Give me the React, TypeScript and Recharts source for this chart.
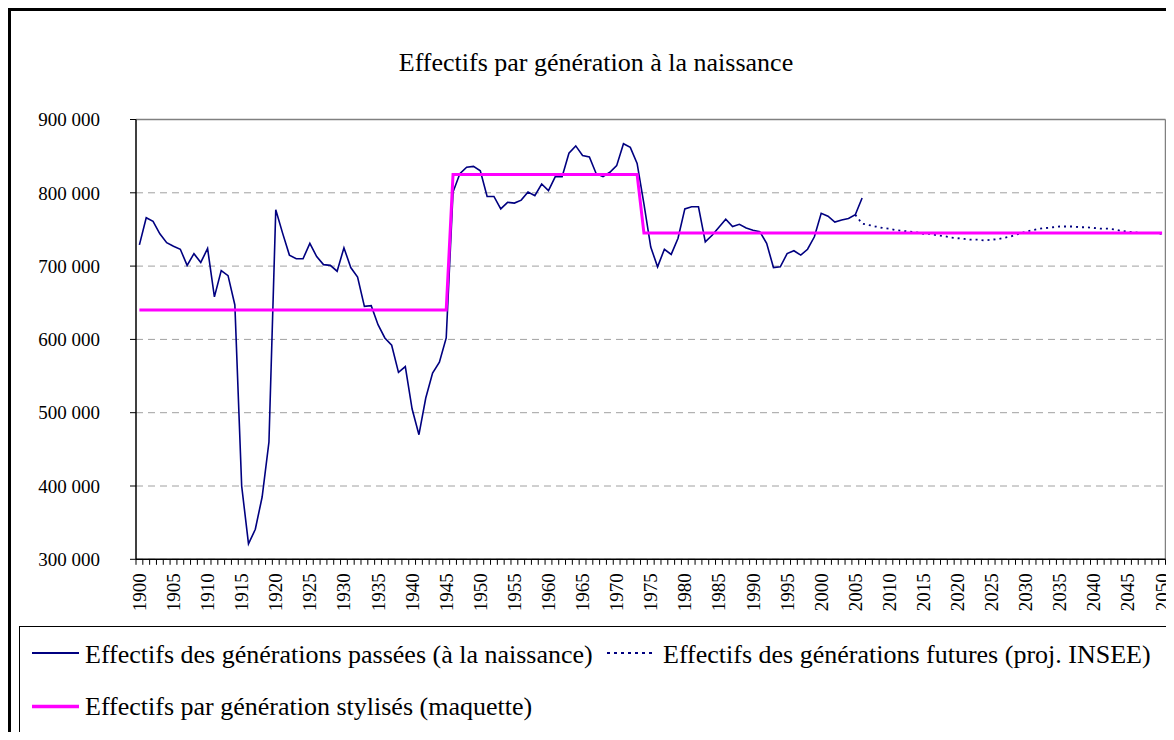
import { LineChart, Line, XAxis, YAxis, CartesianGrid, ReferenceLine } from 'recharts'

// births per generation, 1900 -> 2006 (one value per year)
const pastStart = 1900
const pastBirths = [
  729000, 766000, 761000, 744000, 732000, 727000, 723000, 701000, 717000, 705000,
  724000, 658000, 694000, 687000, 647000, 400000, 321000, 341000, 385000, 460000,
  777000, 745000, 715000, 710000, 710000, 731000, 713000, 702000, 701000, 693000,
  725000, 698000, 685000, 645000, 646000, 620000, 602000, 592000, 555000, 563000,
  505000, 470000, 520000, 554000, 569000, 602000, 801000, 826000, 835000, 836000,
  830000, 795000, 795000, 778000, 787000, 786000, 790000, 801000, 796000, 812000,
  803000, 822000, 822000, 854000, 864000, 851000, 849000, 826000, 822000, 828000,
  837000, 867000, 862000, 840000, 785000, 726000, 699000, 723000, 716000, 738000,
  778000, 781000, 781000, 733000, 742000, 753000, 764000, 754000, 757000, 752000,
  749000, 747000, 731000, 698000, 699000, 717000, 721000, 715000, 723000, 740000,
  772000, 768000, 760000, 763000, 765000, 770000, 793000,
]

// INSEE projection, 2005 -> 2050
const projStart = 2005
const projBirths = [
  770000, 758000, 756000, 754000, 752000, 751000, 749000, 748000, 747000, 746000,
  744000, 744000, 742000, 741000, 739000, 738000, 737000, 736000, 736000, 735000,
  736000, 737000, 739000, 741000, 744000, 747000, 749000, 751000, 752000, 753000,
  754000, 754000, 754000, 753000, 753000, 752000, 751000, 751000, 750000, 748000,
  747000, 746000, 745000, 745000, 745000, 744000,
]

// stylised step profile (maquette)
const styleYears = [1900, 1945, 1946, 1973, 1974, 2050]
const styleBirths = [640000, 640000, 825000, 825000, 745000, 745000]

const labelYears = [
  1900, 1905, 1910, 1915, 1920, 1925, 1930, 1935, 1940, 1945, 1950, 1955, 1960, 1965, 1970, 1975,
  1980, 1985, 1990, 1995, 2000, 2005, 2010, 2015, 2020, 2025, 2030, 2035, 2040, 2045, 2050,
]
const yTicks = [300000, 400000, 500000, 600000, 700000, 800000, 900000]

const title = 'Effectifs par génération à la naissance'
const pastName = 'Effectifs des générations passées (à la naissance)'
const projName = 'Effectifs des générations futures (proj. INSEE)'
const styleName = 'Effectifs par génération stylisés (maquette)'

const pastData = pastBirths.map((v, i) => ({ year: pastStart + i, value: v }))
const projData = projBirths.map((v, i) => ({ year: projStart + i, value: v }))
const styleData = styleYears.map((y, i) => ({ year: y, value: styleBirths[i] }))

// tick marks sit between categories, labels every 5 years
const boundaries: number[] = []
for (let y = pastStart - 0.5; y <= 2050.5; y += 1) boundaries.push(y)
const xTicks = [...boundaries, ...labelYears].sort((a, b) => a - b)

const FONT = '"Liberation Serif", "Times New Roman", serif'
const NAVY = '#000080'
const PINK = '#ff00ff'

function fmt(v: number) {
  return String(v).replace(/\B(?=(\d{3})+(?!\d))/g, ' ')
}

function YearTick(props: any) {
  const { x, y, payload } = props
  const v = payload.value as number
  if (v % 1 !== 0) {
    return <line x1={x} x2={x} y1={y} y2={y + 5.5} stroke="#000" strokeWidth={1} />
  }
  const ty = y + 14
  return (
    <text
      x={x}
      y={ty}
      transform={`rotate(-90, ${x}, ${ty})`}
      textAnchor="end"
      dominantBaseline="central"
      fontFamily={FONT}
      fontSize={19}
      fill="#000"
    >
      {v}
    </text>
  )
}

export default function App() {
  return (
    <div style={{ position: 'relative', width: 1166, height: 732, marginBottom: -8, overflow: 'hidden', background: '#fff' }}>
      <div style={{ position: 'absolute', left: 0, top: 0, width: 1200, height: 800, borderLeft: '3px solid #000', borderTop: '3px solid #000', boxSizing: 'border-box' }} />

      <svg width={1166} height={100} style={{ position: 'absolute', left: 0, top: 0 }}>
        <text x={588} y={63} textAnchor="middle" fontFamily={FONT} fontSize={26} fill="#000">{title}</text>
      </svg>

      <div style={{ position: 'absolute', left: 0, top: 0 }}>
        <LineChart width={1166} height={612} margin={{ top: 111.5, right: 8.5, left: 0, bottom: 0 }}>
          <CartesianGrid vertical={false} stroke="#a0a0a0" strokeDasharray="7 5" />
          <XAxis
            type="number"
            dataKey="year"
            domain={[1899.5, 2050.5]}
            ticks={xTicks}
            interval={0}
            tick={<YearTick />}
            tickLine={false}
            tickSize={0}
            tickMargin={0}
            height={60.7}
            axisLine={{ stroke: '#000', strokeWidth: 1.5 }}
          />
          <YAxis
            type="number"
            domain={[300000, 900000]}
            ticks={yTicks}
            interval={0}
            width={128}
            tickFormatter={fmt}
            tickSize={6}
            tickMargin={30}
            tick={{ fontFamily: FONT, fontSize: 19, fill: '#000' }}
            tickLine={{ stroke: '#000' }}
            axisLine={{ stroke: '#000', strokeWidth: 1.5 }}
          />
          <ReferenceLine y={900000} stroke="#808080" strokeWidth={1.5} />
          <ReferenceLine x={2050.5} stroke="#808080" strokeWidth={1.5} />
          <Line data={pastData} dataKey="value" type="linear" stroke={NAVY} strokeWidth={1.6} dot={false} isAnimationActive={false} />
          <Line data={projData} dataKey="value" type="linear" stroke={NAVY} strokeWidth={1.8} strokeDasharray="2 4" dot={false} isAnimationActive={false} />
          <Line data={styleData} dataKey="value" type="linear" stroke={PINK} strokeWidth={3} dot={false} isAnimationActive={false} />
        </LineChart>
      </div>

      <svg width={1166} height={122} style={{ position: 'absolute', left: 0, top: 610 }}>
        <rect x={11.5} y={8.5} width={1200} height={106} fill="none" stroke="#000" strokeWidth={1} />
        <line x1={24} x2={71} y1={35} y2={35} stroke={NAVY} strokeWidth={2} />
        <text x={77} y={45} fontFamily={FONT} fontSize={26} fill="#000">{pastName}</text>
        <line x1={599} x2={647} y1={35} y2={35} stroke={NAVY} strokeWidth={2} strokeDasharray="3 4" />
        <text x={655} y={45} fontFamily={FONT} fontSize={26} fill="#000">{projName}</text>
        <line x1={24} x2={71} y1={88.5} y2={88.5} stroke={PINK} strokeWidth={3.5} />
        <text x={77} y={97} fontFamily={FONT} fontSize={26} fill="#000">{styleName}</text>
      </svg>
    </div>
  )
}
